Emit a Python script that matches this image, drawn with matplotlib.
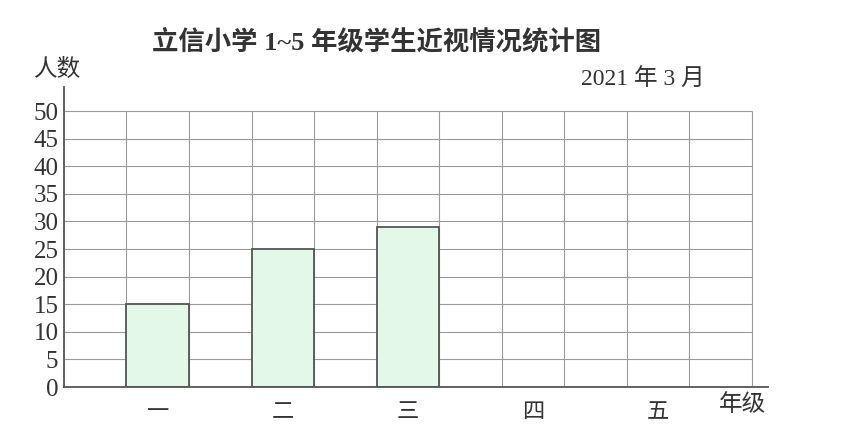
import matplotlib
matplotlib.use("Agg")
import matplotlib.pyplot as plt

# data
grades = ["一", "二", "三", "四", "五"]
students = [15, 25, 29, 0, 0]
yticks = list(range(0, 51, 5))

title = "立信小学 1~5 年级学生近视情况统计图"
ylabel = "人数"
xlabel = "年级"
date_note = "2021 年 3 月"

fams = ["Liberation Serif", "Noto Sans CJK SC", "DejaVu Sans"]
plt.rcParams["font.family"] = fams

fig = plt.figure(figsize=(8.53, 4.32), dpi=100)
ax = fig.add_axes([64 / 853, 45 / 432, (768 - 64) / 853, (387 - 87) / 432])

ncols = 11
xmax = (768 - 64) / 62.5
ymax = (387 - 87) / 5.52
ax.set_xlim(0, xmax)
ax.set_ylim(0, ymax)

# grid, only inside the 11 columns
gcol = "#9a9a9a"
ax.hlines(yticks[1:], 0, ncols, color=gcol, lw=0.8, zorder=1)
ax.vlines(range(1, ncols + 1), 0, 50, color=gcol, lw=0.8, zorder=1)

centers = [2 * i + 1.5 for i in range(len(grades))]
vals = [v for v in students if v > 0]
ax.bar(centers[:len(vals)], vals, width=1.0, color="#e3f8e8",
       edgecolor="#555555", linewidth=1.3, zorder=2)

for s in ["top", "right"]:
    ax.spines[s].set_visible(False)
for s in ["left", "bottom"]:
    ax.spines[s].set_color("#555555")
    ax.spines[s].set_linewidth(1.3)

ax.set_yticks(yticks)
ax.set_yticklabels([str(t) for t in yticks], fontsize=18, color="#333333")
ax.tick_params(axis="y", length=0, pad=4)
ax.set_xticks(centers)
ax.set_xticklabels(grades, fontsize=16, color="#333333")
ax.tick_params(axis="x", length=0, pad=12)

fig.text(377 / 853, 1 - 42 / 432, title, ha="center", va="center",
         fontsize=19, fontweight="bold", color="#333333")
fig.text(58 / 853, 1 - 70 / 432, ylabel, ha="center", va="center",
         fontsize=17, color="#333333")
fig.text(643 / 853, 1 - 80 / 432, date_note, ha="center", va="center",
         fontsize=17, color="#333333")
fig.text(743 / 853, 1 - 405 / 432, xlabel, ha="center", va="center",
         fontsize=17, color="#333333")

fig.savefig("out.png", dpi=100)
